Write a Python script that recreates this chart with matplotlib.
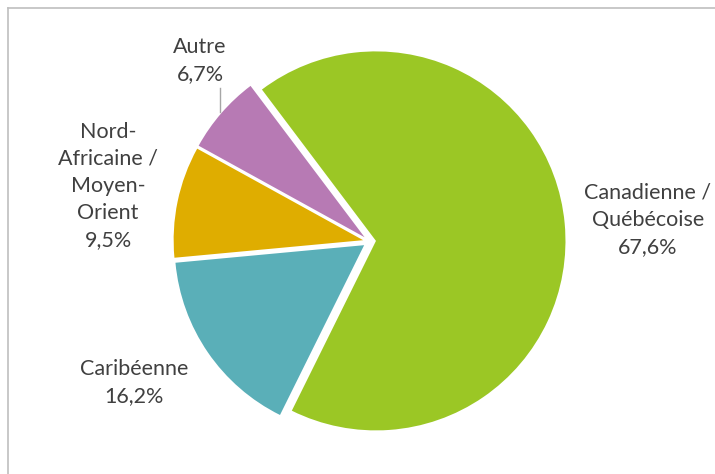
import matplotlib.pyplot as plt
from matplotlib.lines import Line2D

# données
categories = ['Canadienne /\nQuébécoise', 'Caribéenne', 'Nord-\nAfricaine /\nMoyen-\nOrient', 'Autre']
valeurs = [67.6, 16.2, 9.5, 6.7]
etiquettes = ['67,6%', '16,2%', '9,5%', '6,7%']
couleurs = ['#9BC725', '#5AAFB8', '#DFAD00', '#B77AB4']

W, H = 715, 474
fig = plt.figure(figsize=(W / 100, H / 100), dpi=100)
ax = fig.add_axes([0, 0, 1, 1])
ax.set_xlim(0, W)
ax.set_ylim(0, H)
ax.set_aspect('equal')
ax.axis('off')

# en pixels : explode est une distance absolue dans matplotlib
cx, cy, r = 369.5, H - 241.5, 189.5
ax.pie(valeurs, colors=couleurs, startangle=127, counterclock=False,
       explode=[6.5] * 4, center=(cx, cy), radius=r,
       wedgeprops=dict(linewidth=0))
ax.set_xlim(0, W)
ax.set_ylim(0, H)

# étiquettes (position en pixels)
pos = [(648, 220), (134, 383), (108, 186), (200, 61)]
txt_color = '#404040'
for (x, y), cat, et in zip(pos, categories, etiquettes):
    ax.text(x, H - y, cat + '\n' + et, ha='center', va='center',
            fontsize=15.5, color=txt_color, family='Lato', linespacing=1.44)

# ligne de rappel "Autre"
ax.add_line(Line2D([220, 220], [H - 88, H - 112], color='#A6A6A6', lw=1))

# cadre
fig.add_artist(Line2D([8 / W, 8 / W], [0, 1 - 8 / H], transform=fig.transFigure, color='#BFBFBF', lw=1.2))
fig.add_artist(Line2D([8 / W, 1], [1 - 8 / H, 1 - 8 / H], transform=fig.transFigure, color='#BFBFBF', lw=1.2))

fig.savefig('out.png', dpi=100)
